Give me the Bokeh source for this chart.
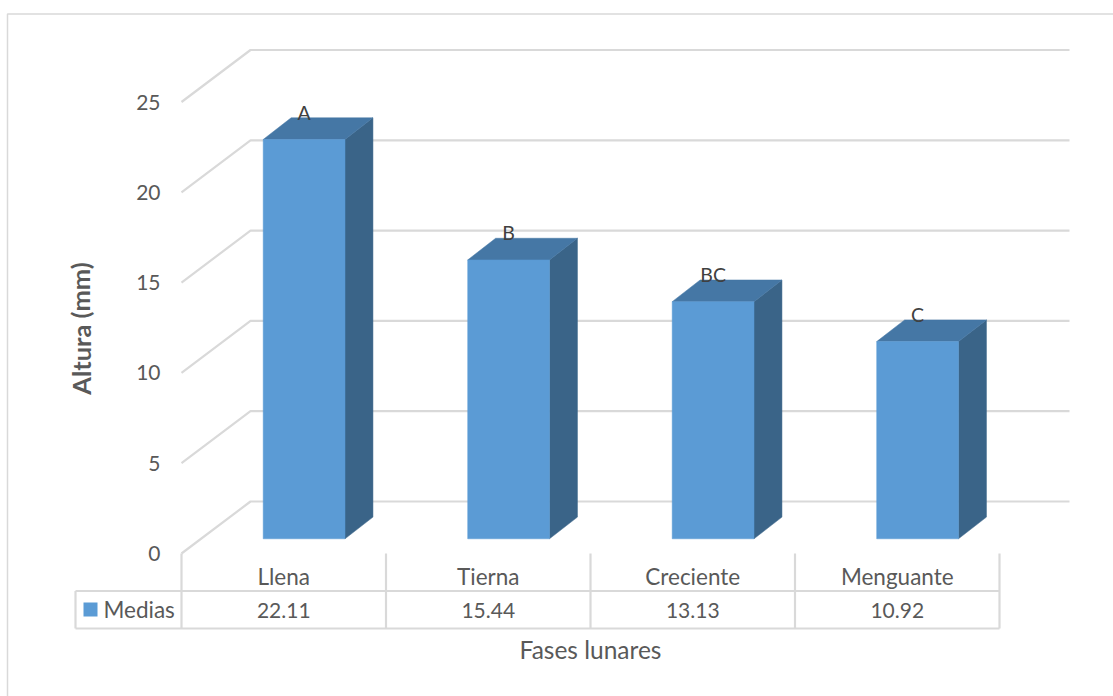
from bokeh.core.properties import value
from bokeh.embed import file_html
from bokeh.models import FixedTicker, LinearAxis, Range1d
from bokeh.plotting import figure
from bokeh.resources import INLINE

# Datos del ensayo
fases = ["Llena", "Tierna", "Creciente", "Menguante"]
medias = [22.11, 15.44, 13.13, 10.92]
letras = ["A", "B", "BC", "C"]
ticks_altura = [0, 5, 10, 15, 20, 25]

FONT = "Lato"
W, H = 1113, 696
CAT_PX = 204.5      # ancho de una categoria en pixeles
UNIT_PX = 18.06     # pixeles por milimetro de altura
ORIGIN_X, ORIGIN_Y = 181.0, 553.0
DEPTH_X = 69.0 / CAT_PX     # fondo de la perspectiva en unidades de datos
DEPTH_Y = 52.0 / UNIT_PX
BAR_W = 0.40
F_FRONT, F_BACK = 0.295, 0.70

GRID = "#d9d9d9"
TEXT = "#595959"

p = figure(
    width=W, height=H, output_backend="svg", toolbar_location=None,
    x_range=Range1d(-ORIGIN_X / CAT_PX, (W - ORIGIN_X) / CAT_PX),
    y_range=Range1d(-(H - ORIGIN_Y) / UNIT_PX, ORIGIN_Y / UNIT_PX),
    x_axis_type=None, y_axis_type=None,
    min_border=0, min_border_left=0, min_border_right=0,
    min_border_top=0, min_border_bottom=0,
    outline_line_color=None, background_fill_color="white",
)
p.grid.visible = False

def px_x(px):
    return (px - ORIGIN_X) / CAT_PX

def px_y(px):
    return (ORIGIN_Y - px) / UNIT_PX

# Marco exterior del grafico
p.line([px_x(7), px_x(7), px_x(1113)],
       [px_y(696), px_y(13.5), px_y(13.5)],
       line_color=GRID, line_width=1.5)

# Cuadricula: pared lateral y pared del fondo
n_cat = len(fases)
back_end = px_x(1069)
for t in ticks_altura:
    p.line([0, DEPTH_X, back_end], [t, t + DEPTH_Y, t + DEPTH_Y],
           line_color=GRID, line_width=2.2)

# Barras en perspectiva: lateral, cara superior y frente
for i, v in enumerate(medias):
    left = i + 0.5 - BAR_W / 2 + F_FRONT * DEPTH_X
    right = left + BAR_W
    dx = (F_BACK - F_FRONT) * DEPTH_X
    base = 0.283 * DEPTH_Y
    dy = (F_BACK - 0.283) * DEPTH_Y
    top = base + v
    p.patch([right, right + dx, right + dx, right],
            [base, base + dy, top + dy, top],
            fill_color="#3A6488", line_color="#3A6488", line_width=0.5)
    p.patch([left, left + dx, right + dx, right],
            [top, top + dy, top + dy, top],
            fill_color="#4577A5", line_color="#4577A5", line_width=0.5)
    p.patch([left, right, right, left],
            [base, base, top, top],
            fill_color="#5B9BD5", line_color="#5B9BD5", line_width=0.5)

# Letras de significancia sobre cada barra
xs_letras = [i + 0.5 + F_FRONT * DEPTH_X for i in range(n_cat)]
ys_letras = [v + 0.283 * DEPTH_Y + 1.5 for v in medias]
p.text(xs_letras, ys_letras, text=letras, text_align="center",
       text_baseline="middle", text_color="#404040",
       text_font=value(FONT), text_font_size="19.5px")

# Tabla de datos bajo el eje
table_left = px_x(75)
row_mid = px_y(590.5)
row_bot = px_y(628)
for yy in (row_mid, row_bot):
    p.line([table_left, n_cat], [yy, yy], line_color=GRID, line_width=2.2)
p.line([table_left, table_left], [row_mid, row_bot], line_color=GRID, line_width=2.2)
for i in range(n_cat + 1):
    p.line([i, i], [0, row_bot], line_color=GRID, line_width=2.2)

centers = [i + 0.5 for i in range(n_cat)]
p.text(centers, [px_y(575.5)] * n_cat, text=fases, text_align="center",
       text_baseline="middle", text_color=TEXT,
       text_font=value(FONT), text_font_size="22.5px")
p.text(centers, [px_y(610)] * n_cat, text=[f"{v:.2f}" for v in medias],
       text_align="center", text_baseline="middle", text_color=TEXT,
       text_font=value(FONT), text_font_size="21px")

# Clave de la serie en la primera columna
p.scatter([px_x(90)], [px_y(609)], marker="square", size=14,
          fill_color="#5B9BD5", line_color=None)
p.text([px_x(103)], [px_y(609)], text=["Medias"], text_align="left",
       text_baseline="middle", text_color=TEXT,
       text_font=value(FONT), text_font_size="22.5px")

# Eje de alturas
y_axis = LinearAxis(
    fixed_location=0,
    ticker=FixedTicker(ticks=ticks_altura),
    axis_line_color=None, major_tick_line_color=None, minor_tick_line_color=None,
    major_tick_in=0, major_tick_out=0,
    major_label_standoff=21,
    major_label_text_font=FONT, major_label_text_font_size="21px",
    major_label_text_color=TEXT,
)
p.add_layout(y_axis, "left")

# Titulos de los ejes
p.text([px_x(80)], [px_y(328)], text=["Altura (mm)"], angle=1.5708,
       text_align="center", text_baseline="middle", text_color=TEXT,
       text_font=value(FONT), text_font_style="bold", text_font_size="25.5px")
p.text([px_x(590)], [px_y(648.5)], text=["Fases lunares"], text_align="center",
       text_baseline="middle", text_color=TEXT,
       text_font=value(FONT), text_font_size="24.5px")

open("out.html", "w").write(file_html(p, INLINE))
